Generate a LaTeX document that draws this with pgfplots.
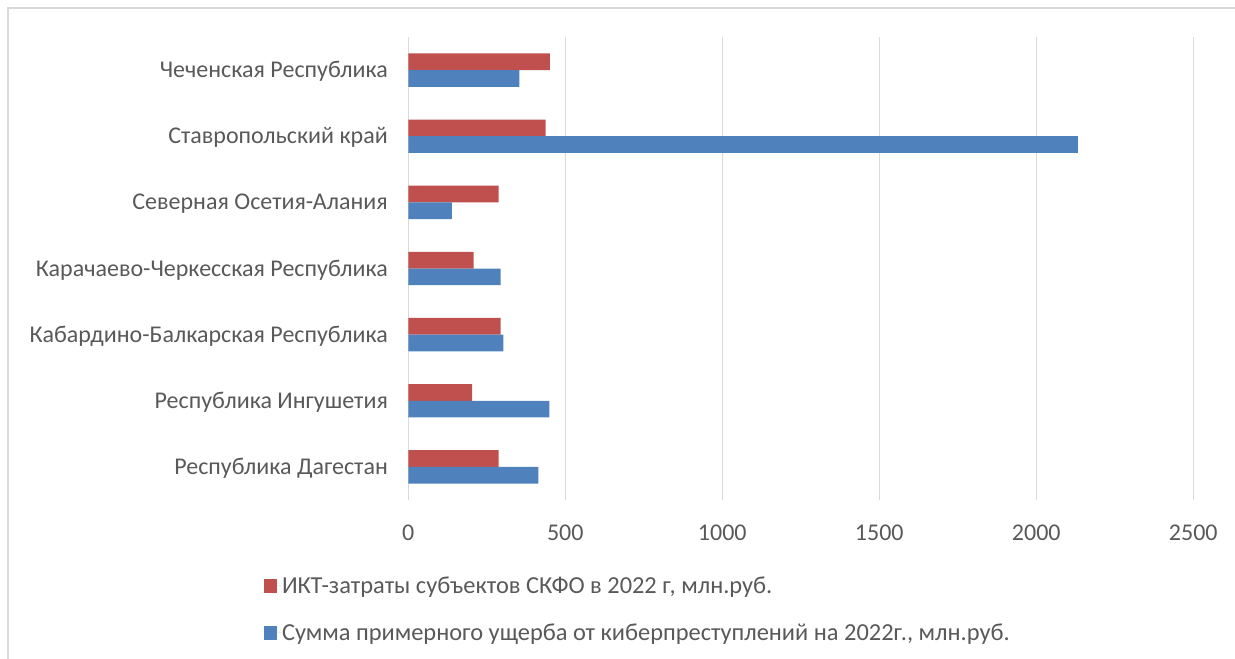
\documentclass[border=0pt]{standalone}
\usepackage{pgfplots}
\pgfplotsset{compat=1.18}
\usepackage{fontspec}
\setmainfont{Carlito}
\definecolor{cred}{HTML}{C0504D}
\definecolor{cblue}{HTML}{4F81BD}
\definecolor{cgrid}{HTML}{D9D9D9}
\definecolor{ctext}{HTML}{595959}
\begin{document}
\begin{tikzpicture}[x=1pt,y=1pt]
\useasboundingbox (0,0) rectangle (1235,659);
\draw[cgrid, line width=1.2pt] (8,0) -- (8,651) -- (1236,651);
\begin{axis}[
  at={(408.3pt,159pt)}, anchor=south west,
  scale only axis, width=785pt, height=463pt,
  xbar, bar width=16.7pt,
  xmin=0, xmax=2500, ymin=-0.5, ymax=6.5,
  xtick={0,500,1000,1500,2000,2500},
  ytick={0,1,2,3,4,5,6},
  yticklabels={Республика Дагестан, Республика Ингушетия, Кабардино-Балкарская Республика, Карачаево-Черкесская Республика, Северная Осетия-Алания, Ставропольский край, Чеченская Республика},
  axis line style={draw=none},
  major tick length=0pt,
  xmajorgrids, major grid style={cgrid, line width=1.3pt},
  /pgf/number format/assume math mode=true,
  /pgf/number format/1000 sep={},
  tick label style={font=\fontsize{24}{28}\selectfont, text=ctext},
  xticklabel style={anchor=base, yshift=-40pt},
  yticklabel style={anchor=base east, xshift=-17pt, yshift=-7.5pt},
  legend style={draw=none, fill=none, font=\fontsize{24.4}{28}\selectfont, text=ctext,
     at={(-0.1838,-0.164)}, anchor=north west, inner sep=0pt, outer sep=0pt,
     row sep=26.5pt, nodes={inner sep=1pt}},
  legend cell align=left,
  legend image code/.code={\path (0pt,0pt) -- (17pt,0pt);\fill[#1] (0pt,-7pt) rectangle (13pt,7pt);},
]
\addplot[fill=cred, draw=none, bar shift=8.35pt] coordinates {
 (288,0) (203,1) (294,2) (208,3) (288,4) (437,5) (451,6)};
\addlegendentry{ИКТ-затраты субъектов СКФО в 2022 г, млн.руб.}
\addplot[fill=cblue, draw=none, bar shift=-8.35pt] coordinates {
 (414,0) (449,1) (303,2) (294,3) (139,4) (2132,5) (354,6)};
\addlegendentry{Сумма примерного ущерба от киберпреступлений на 2022г., млн.руб.}
\end{axis}
\end{tikzpicture}
\end{document}
